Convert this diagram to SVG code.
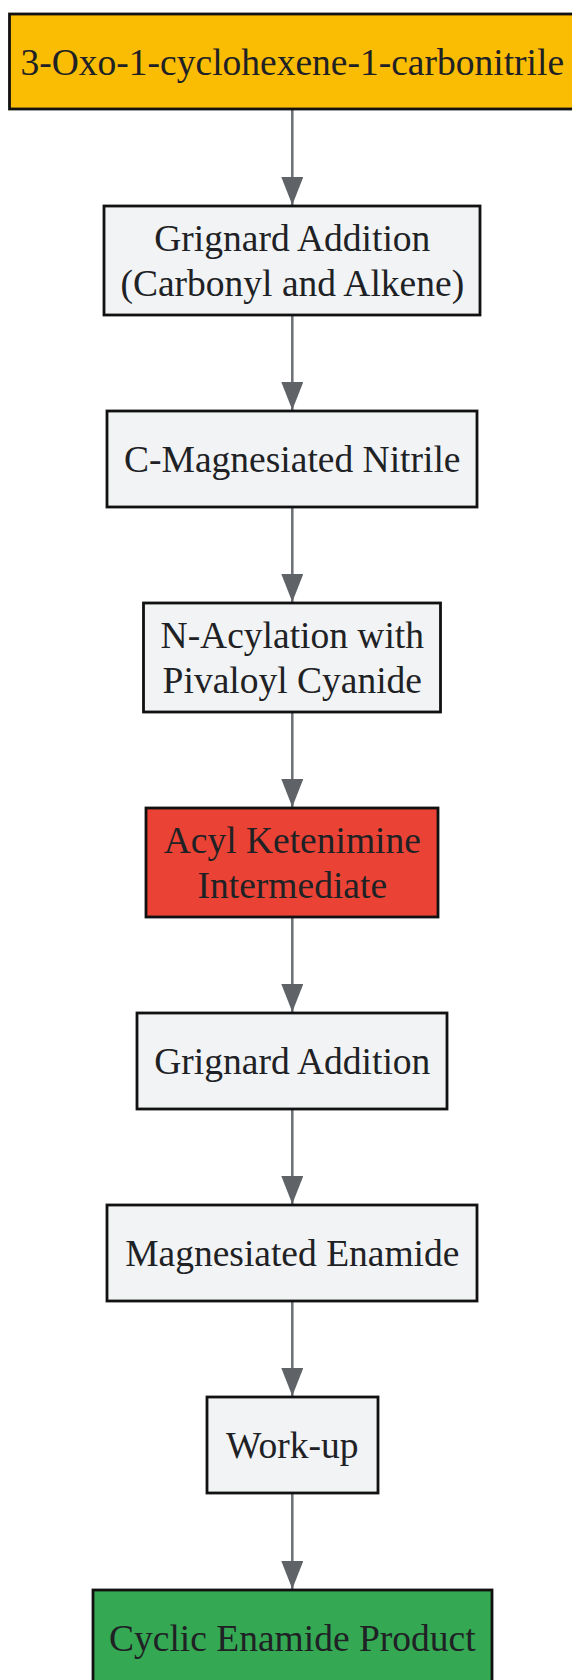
<svg xmlns="http://www.w3.org/2000/svg" width="572" height="1680" viewBox="0 0 572 1680">
<style>
.box{stroke:#111;stroke-width:2.8}
.g{fill:#F1F3F4}
.t{font-family:"Liberation Serif","Times New Roman",serif;font-size:37.5px;fill:#202124;text-anchor:middle}
.edge{stroke:#6b6e72;stroke-width:2.5;fill:none}
</style>
<defs>
<marker id="arr" viewBox="0 0 28 22" refX="28" refY="11" markerWidth="28" markerHeight="22" markerUnits="userSpaceOnUse" orient="auto">
<path d="M0,0 L28,11 L0,22 z" fill="#5f6368"/>
</marker>
</defs>
<rect width="572" height="1680" fill="#fff"/>
<g id="connectors">
<line class="edge" x1="292.3" y1="109" x2="292.3" y2="205" marker-end="url(#arr)"/>
<line class="edge" x1="292.3" y1="315" x2="292.3" y2="410" marker-end="url(#arr)"/>
<line class="edge" x1="292.3" y1="507" x2="292.3" y2="602" marker-end="url(#arr)"/>
<line class="edge" x1="292.3" y1="712" x2="292.3" y2="807" marker-end="url(#arr)"/>
<line class="edge" x1="292.3" y1="917" x2="292.3" y2="1012" marker-end="url(#arr)"/>
<line class="edge" x1="292.3" y1="1109" x2="292.3" y2="1204" marker-end="url(#arr)"/>
<line class="edge" x1="292.3" y1="1301" x2="292.3" y2="1396" marker-end="url(#arr)"/>
<line class="edge" x1="292.3" y1="1493" x2="292.3" y2="1589" marker-end="url(#arr)"/>
</g>
<g id="n1"><rect class="box" x="9.5" y="14" width="566" height="95" fill="#FBBC04"/><text class="t" x="292.3" y="74.5">3-Oxo-1-cyclohexene-1-carbonitrile</text></g>
<g id="n2"><rect class="box g" x="104" y="206" width="376" height="109"/><text class="t" x="292.3" y="251">Grignard Addition</text><text class="t" x="292.3" y="296">(Carbonyl and Alkene)</text></g>
<g id="n3"><rect class="box g" x="107" y="411" width="370" height="96"/><text class="t" x="292.3" y="472">C-Magnesiated Nitrile</text></g>
<g id="n4"><rect class="box g" x="143.5" y="603" width="297" height="109"/><text class="t" x="292.3" y="648">N-Acylation with</text><text class="t" x="292.3" y="693">Pivaloyl Cyanide</text></g>
<g id="n5"><rect class="box" x="146" y="808" width="292" height="109" fill="#EA4335"/><text class="t" x="292.3" y="853">Acyl Ketenimine</text><text class="t" x="292.3" y="898">Intermediate</text></g>
<g id="n6"><rect class="box g" x="137" y="1013" width="310" height="96"/><text class="t" x="292.3" y="1074">Grignard Addition</text></g>
<g id="n7"><rect class="box g" x="107" y="1205" width="370" height="96"/><text class="t" x="292.3" y="1266">Magnesiated Enamide</text></g>
<g id="n8"><rect class="box g" x="207" y="1397" width="171" height="96"/><text class="t" x="292.3" y="1458">Work-up</text></g>
<g id="n9"><rect class="box" x="93" y="1590" width="399" height="96" fill="#34A853"/><text class="t" x="292.3" y="1651">Cyclic Enamide Product</text></g>
</svg>
